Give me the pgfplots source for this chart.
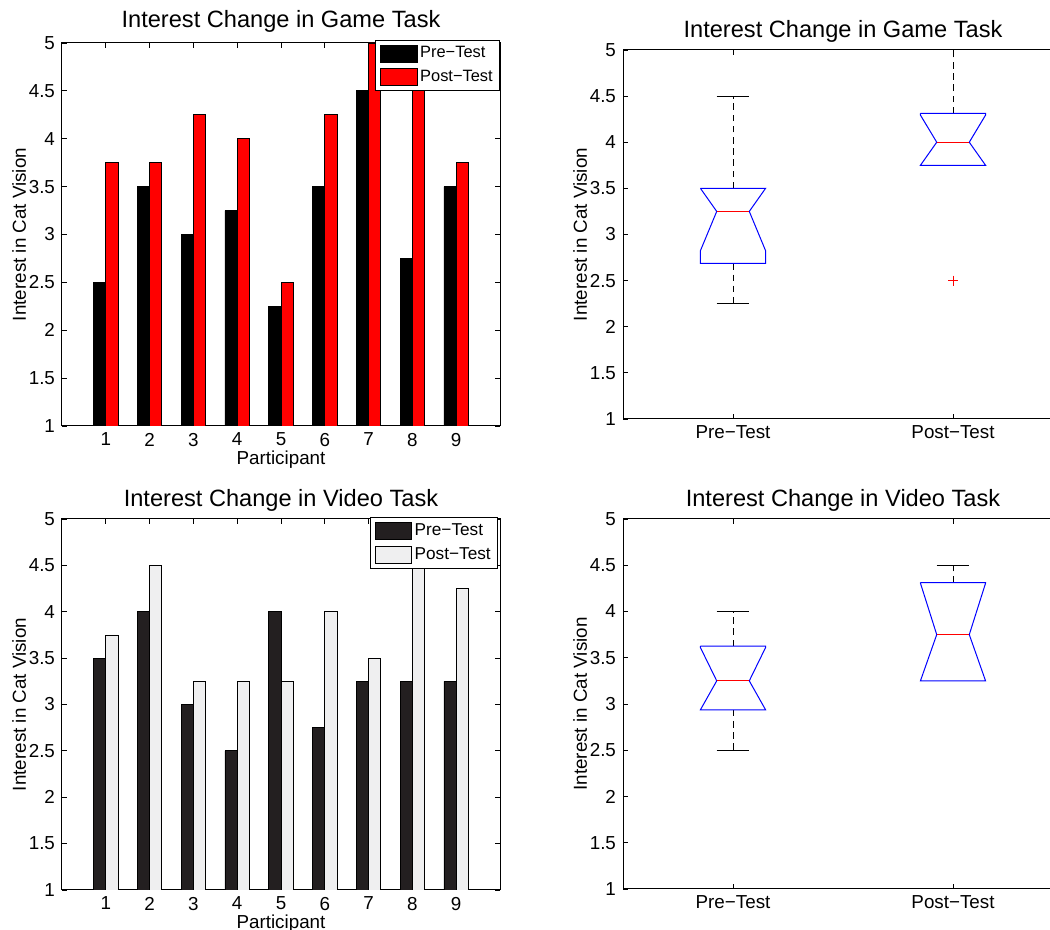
\documentclass[border=0pt]{standalone}
\usepackage{pgfplots}
\pgfplotsset{compat=1.18}
\usepackage{fontspec}
\setmainfont{Liberation Sans}
\definecolor{predark}{RGB}{35,31,32}
\definecolor{postlight}{RGB}{239,239,240}
\begin{document}
\begin{tikzpicture}
\pgfplotsset{
  every axis/.append style={
    scale only axis,
    anchor=north west,
    font=\fontsize{9.4}{11}\selectfont,
    /pgf/number format/assume math mode=true,
    ymin=1, ymax=5,
    ytick={1,1.5,2,2.5,3,3.5,4,4.5,5},
    yticklabels={1,1.5,2,2.5,3,3.5,4,4.5,5},
    ylabel={Interest in Cat Vision},
    ylabel style={yshift=-5.5pt},
    title style={font=\fontsize{11.8}{14}\selectfont, yshift=-5.5pt},
    major tick length=2.5pt,
    tick style={black, line width=0.4pt},
    axis line style={line width=0.5pt},
    tick align=inside,
  },
  barax/.style={
    xmin=0, xmax=10, xtick={1,2,3,4,5,6,7,8,9},
    xlabel={Participant}, width=219pt,
    xlabel style={yshift=4.5pt},
    legend style={at={(1,1)}, anchor=north east, yshift=1.5pt,
      draw=black, line width=0.5pt, inner xsep=2.2pt, inner ysep=1.8pt,
      row sep=2.2pt, nodes={inner sep=1.2pt},
      font=\fontsize{8.2}{9.5}\selectfont},
    legend cell align=left,
  },
  boxax/.style={
    xmin=0.5, xmax=2.5, xtick={1,2}, xticklabels={Pre−Test,Post−Test},
    width=220pt,
  },
  swatch/.style={legend image code/.code={\draw[##1] (0cm,-0.15cm) rectangle (0.65cm,0.15cm);}},
  bx/.style={blue, line width=0.5pt, mark=none},
  md/.style={red, line width=0.5pt, mark=none},
  wh/.style={black, line width=0.5pt, mark=none, dash pattern=on 3.3pt off 2.3pt},
  cp/.style={black, line width=0.5pt, mark=none},
}

% ---------- top left: bars, game task ----------
\begin{axis}[barax, at={(31pt,443.5pt)}, height=191.5pt,
  title={Interest Change in Game Task}, title style={yshift=1.5pt}]
\addplot[ybar, bar width=0.28, bar shift=-0.14, fill=black, draw=black, line width=0.4pt, swatch]
  coordinates {(1,2.5) (2,3.5) (3,3.0) (4,3.25) (5,2.25) (6,3.5) (7,4.5) (8,2.75) (9,3.5)};
\addplot[ybar, bar width=0.28, bar shift=0.14, fill=red, draw=black, line width=0.4pt, swatch]
  coordinates {(1,3.75) (2,3.75) (3,4.25) (4,4.0) (5,2.5) (6,4.25) (7,5.0) (8,4.5) (9,3.75)};
\legend{Pre−Test,Post−Test}
\end{axis}

% ---------- bottom left: bars, video task ----------
\begin{axis}[barax, at={(31pt,205.5pt)}, height=185.5pt,
  title={Interest Change in Video Task},
  legend style={yshift=-0.5pt, xshift=-1pt, font=\fontsize{8.6}{10}\selectfont}]
\addplot[ybar, bar width=0.28, bar shift=-0.14, fill=predark, draw=black, line width=0.4pt, swatch]
  coordinates {(1,3.5) (2,4.0) (3,3.0) (4,2.5) (5,4.0) (6,2.75) (7,3.25) (8,3.25) (9,3.25)};
\addplot[ybar, bar width=0.28, bar shift=0.14, fill=postlight, draw=black, line width=0.4pt, swatch]
  coordinates {(1,3.75) (2,4.5) (3,3.25) (4,3.25) (5,3.25) (6,4.0) (7,3.5) (8,4.5) (9,4.25)};
\legend{Pre−Test,Post−Test}
\end{axis}

% ---------- top right: box plots, game task ----------
\begin{axis}[boxax, at={(311.5pt,440pt)}, height=184.5pt,
  title={Interest Change in Game Task}]
% Pre-Test
\addplot[wh] coordinates {(1,3.5) (1,4.5)};
\addplot[wh] coordinates {(1,2.6875) (1,2.25)};
\addplot[cp] coordinates {(0.926,4.5) (1.074,4.5)};
\addplot[cp] coordinates {(0.926,2.25) (1.074,2.25)};
\addplot[bx] coordinates {(0.852,3.5) (1.148,3.5) (1.074,3.25) (1.148,2.825) (1.148,2.6875) (0.852,2.6875) (0.852,2.825) (0.926,3.25) (0.852,3.5)};
\addplot[md] coordinates {(0.926,3.25) (1.074,3.25)};
% Post-Test
\addplot[wh] coordinates {(2,4.3125) (2,5)};
\addplot[cp] coordinates {(1.926,5) (2.074,5)};
\addplot[bx] coordinates {(1.852,4.3125) (2.148,4.3125) (2.148,4.294) (2.074,4.0) (2.148,3.75) (1.852,3.75) (1.926,4.0) (1.852,4.294) (1.852,4.3125)};
\addplot[md] coordinates {(1.926,4.0) (2.074,4.0)};
\addplot[only marks, mark=+, mark size=2.5pt, red, line width=0.4pt] coordinates {(2,2.5)};
\end{axis}

% ---------- bottom right: box plots, video task ----------
\begin{axis}[boxax, at={(311.5pt,205.5pt)}, height=185pt,
  title={Interest Change in Video Task}]
% Pre-Test
\addplot[wh] coordinates {(1,3.625) (1,4.0)};
\addplot[wh] coordinates {(1,2.9375) (1,2.5)};
\addplot[cp] coordinates {(0.926,4.0) (1.074,4.0)};
\addplot[cp] coordinates {(0.926,2.5) (1.074,2.5)};
\addplot[bx] coordinates {(0.852,3.625) (1.148,3.625) (1.148,3.61) (1.074,3.25) (1.148,2.9375) (0.852,2.9375) (0.926,3.25) (0.852,3.61) (0.852,3.625)};
\addplot[md] coordinates {(0.926,3.25) (1.074,3.25)};
% Post-Test
\addplot[wh] coordinates {(2,4.3125) (2,4.5)};
\addplot[cp] coordinates {(1.926,4.5) (2.074,4.5)};
\addplot[bx] coordinates {(1.852,4.3125) (2.148,4.3125) (2.148,4.306) (2.074,3.75) (2.148,3.25) (1.852,3.25) (1.926,3.75) (1.852,4.306) (1.852,4.3125)};
\addplot[md] coordinates {(1.926,3.75) (2.074,3.75)};
\end{axis}

\pgfresetboundingbox
\useasboundingbox (0pt,0pt) rectangle (525pt,465pt);
\end{tikzpicture}
\end{document}
